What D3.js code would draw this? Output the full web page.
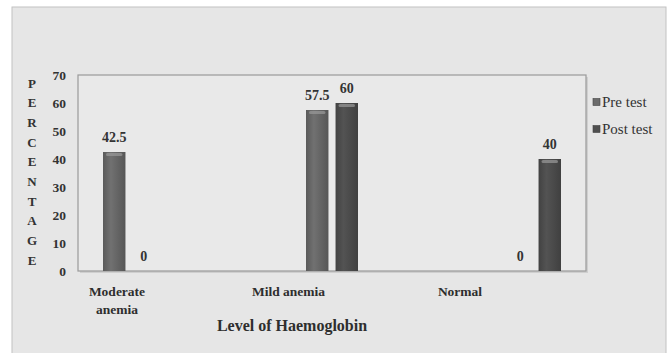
<!DOCTYPE html>
<html>
<head>
<meta charset="utf-8">
<script src="https://cdn.jsdelivr.net/npm/d3@7"></script>
<style>
  html, body { margin: 0; padding: 0; background: #ffffff; }
  svg { display: block; }
</style>
</head>
<body>
<svg id="chart" width="672" height="353"></svg>
<script>
// Haemoglobin level before and after the intervention (percentage of subjects)
const categories = ["Moderate anemia", "Mild anemia", "Normal"];
const categoryLines = [["Moderate", "anemia"], ["Mild anemia"], ["Normal"]];
const seriesNames = ["Pre test", "Post test"];
const preTest = [42.5, 57.5, 0];
const postTest = [0, 60, 40];
const yTicks = [0, 10, 20, 30, 40, 50, 60, 70];
const yTitle = "PERCENTAGE";
const xTitle = "Level of Haemoglobin";

const seriesValues = [preTest, postTest];
const seriesColors = ["#6b6b6b", "#4f4f4f"];

const svg = d3.select("#chart");
const plot = { left: 78, top: 75, right: 586, bottom: 271 };
const serif = "'Liberation Serif', 'Times New Roman', serif";

// gradients giving the bars a rounded, shaded look
const defs = svg.append("defs");
seriesColors.forEach((c, i) => {
  const g = defs.append("linearGradient").attr("id", "bar" + i)
    .attr("x1", "0").attr("x2", "1").attr("y1", "0").attr("y2", "0");
  g.append("stop").attr("offset", "0%").attr("stop-color", d3.color(c).darker(0.5));
  g.append("stop").attr("offset", "35%").attr("stop-color", d3.color(c).brighter(0.15));
  g.append("stop").attr("offset", "100%").attr("stop-color", d3.color(c).darker(0.6));
});

// outer chart frame
svg.append("rect").attr("x", 12).attr("y", 7).attr("width", 654).attr("height", 352)
  .attr("fill", "#e6e6e6").attr("stroke", "#c2c2c2").attr("stroke-width", 1);

// plot area box with soft shadow
svg.append("rect").attr("x", plot.left + 2).attr("y", plot.top + 2)
  .attr("width", plot.right - plot.left).attr("height", plot.bottom - plot.top)
  .attr("fill", "#cfcfcf");
svg.append("rect").attr("x", plot.left).attr("y", plot.top)
  .attr("width", plot.right - plot.left).attr("height", plot.bottom - plot.top)
  .attr("fill", "#e9e9e9").attr("stroke", "#9a9a9a").attr("stroke-width", 1.2);

// scales
const y = d3.scaleLinear().domain([0, 70]).range([271, 75]);
const xBars = d3.scalePoint().domain(categories).range([129, 535]);
const xLabels = d3.scalePoint().domain(categories).range([117, 460]);
const xSub = d3.scaleBand().domain(seriesNames).range([-26, 26]).paddingInner(0.24);

// y axis labels
const yAxis = d3.axisLeft(y).tickValues(yTicks).tickSize(0).tickPadding(0);
const yg = svg.append("g").attr("transform", "translate(66,0)").call(yAxis);
yg.select(".domain").remove();
yg.selectAll("text").attr("font-family", serif).attr("font-weight", "bold")
  .attr("font-size", 13.5).attr("fill", "#333").attr("dy", "0.35em");

// stacked vertical y title
const letters = yTitle.split("");
const letterY = d3.scalePoint().domain(d3.range(letters.length)).range([83, 260]);
svg.append("g").selectAll("text").data(letters).join("text")
  .attr("x", 32).attr("y", (d, i) => letterY(i)).attr("dy", "0.35em")
  .attr("text-anchor", "middle")
  .attr("font-family", serif).attr("font-weight", "bold")
  .attr("font-size", 13).attr("fill", "#333").text(d => d);

// bars
const bw = xSub.bandwidth();
const barData = [];
categories.forEach((c, ci) => {
  seriesNames.forEach((s, si) => {
    barData.push({ cat: c, series: s, si, value: seriesValues[si][ci] });
  });
});
const bars = svg.append("g").selectAll("g").data(barData).join("g");
bars.filter(d => d.value > 0).append("rect")
  .attr("x", d => xBars(d.cat) + xSub(d.series))
  .attr("y", d => y(d.value))
  .attr("width", bw)
  .attr("height", d => y(0) - y(d.value))
  .attr("fill", d => "url(#bar" + d.si + ")");
bars.filter(d => d.value > 0).append("rect")
  .attr("x", d => xBars(d.cat) + xSub(d.series) + 3)
  .attr("y", d => y(d.value) + 1)
  .attr("width", bw - 6)
  .attr("height", 3)
  .attr("rx", 1.5)
  .attr("fill", "#9a9a9a").attr("opacity", 0.7);

// value labels
bars.append("text")
  .attr("x", d => xBars(d.cat) + xSub(d.series) + bw / 2)
  .attr("y", d => y(d.value) - 10)
  .attr("text-anchor", "middle")
  .attr("font-family", serif).attr("font-weight", "bold")
  .attr("font-size", 14).attr("fill", "#333")
  .text(d => d.value);

// category labels
const catG = svg.append("g").selectAll("text").data(categories).join("text")
  .attr("x", d => xLabels(d)).attr("y", 296)
  .attr("text-anchor", "middle")
  .attr("font-family", serif).attr("font-weight", "bold")
  .attr("font-size", 13.5).attr("fill", "#2e2e2e");
catG.each(function (d, i) {
  d3.select(this).selectAll("tspan").data(categoryLines[i]).join("tspan")
    .attr("x", xLabels(d)).attr("dy", (t, j) => j === 0 ? 0 : 18).text(t => t);
});

// x title
svg.append("text").attr("x", 292).attr("y", 331).attr("text-anchor", "middle")
  .attr("font-family", serif).attr("font-weight", "bold")
  .attr("font-size", 16).attr("fill", "#2e2e2e").text(xTitle);

// legend
const legend = svg.append("g").selectAll("g").data(seriesNames).join("g")
  .attr("transform", (d, i) => `translate(593,${102 + i * 27})`);
legend.append("rect").attr("x", 0).attr("y", -3.5).attr("width", 7).attr("height", 7)
  .attr("fill", (d, i) => seriesColors[i]).attr("stroke", "#444").attr("stroke-width", 0.6);
legend.append("text").attr("x", 9).attr("y", 0).attr("dy", "0.35em")
  .attr("font-family", serif).attr("font-size", 15).attr("fill", "#333")
  .text(d => d);
</script>
</body>
</html>
